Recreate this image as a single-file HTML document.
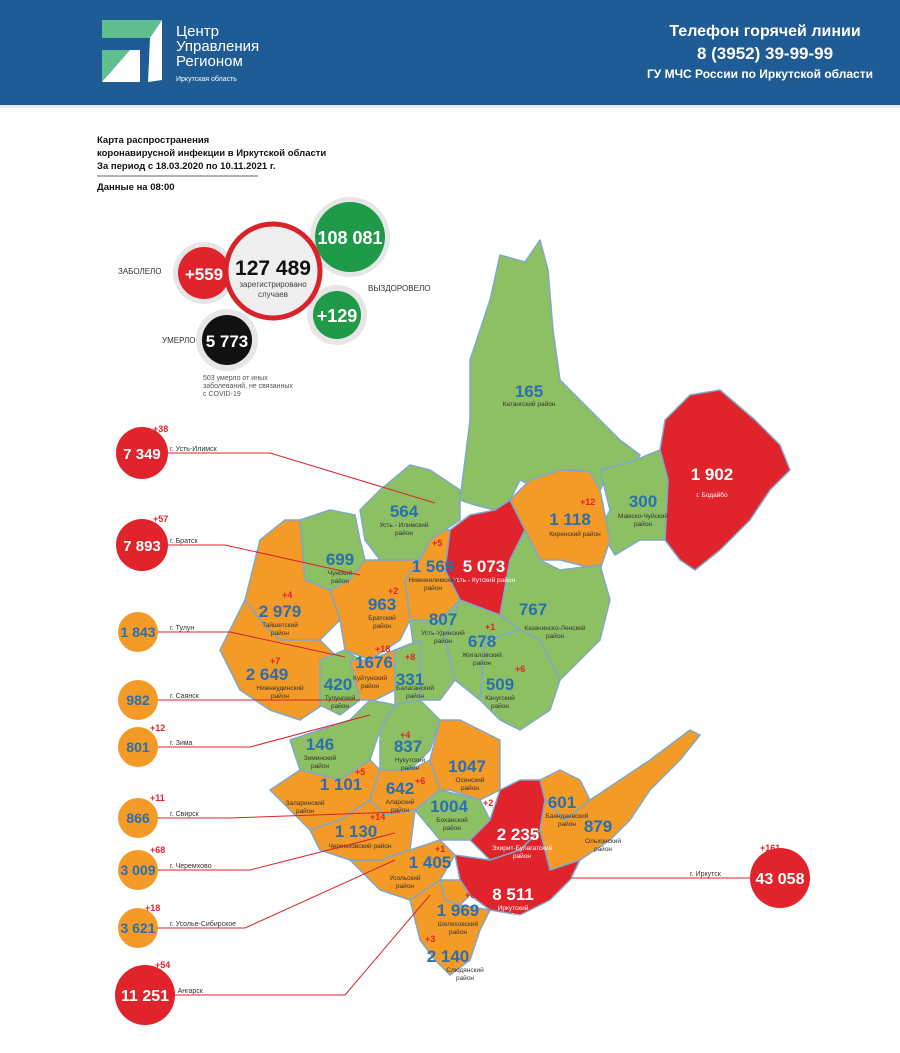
<!DOCTYPE html>
<html><head><meta charset="utf-8"><style>
body{margin:0;width:900px;height:1048px;overflow:hidden;background:#fff;font-family:"Liberation Sans",sans-serif}
</style></head><body>
<svg width="900" height="1048" viewBox="0 0 900 1048" xmlns="http://www.w3.org/2000/svg" font-family="Liberation Sans, sans-serif">
<rect x="0" y="0" width="900" height="105" fill="#1f5b94"/>
<rect x="0" y="105" width="900" height="3" fill="#e9eef4"/>
<polygon points="102,20 162,20 150,38 102,38" fill="#5fbf8f"/>
<polygon points="150,38 162,20 162,80 148,82" fill="#fff"/>
<polygon points="102,50 130,50 102,82" fill="#5fbf8f"/>
<polygon points="130,50 140,50 140,82 102,82" fill="#fff"/>
<text x="176" y="36" fill="#fff" font-size="15">Центр</text>
<text x="176" y="51" fill="#fff" font-size="15">Управления</text>
<text x="176" y="66" fill="#fff" font-size="15">Регионом</text>
<text x="176" y="81" fill="#fff" font-size="7">Иркутская область</text>
<text x="765" y="36" fill="#fff" font-size="16" font-weight="bold" text-anchor="middle">Телефон горячей линии</text>
<text x="765" y="59" fill="#fff" font-size="17" font-weight="bold" text-anchor="middle">8 (3952) 39-99-99</text>
<text x="760" y="78" fill="#fff" font-size="12" font-weight="bold" text-anchor="middle">ГУ МЧС России по Иркутской области</text>
<g font-size="9.5" font-weight="bold" fill="#111">
<text x="97" y="143">Карта распространения</text>
<text x="97" y="156">коронавирусной инфекции в Иркутской области</text>
<text x="97" y="169">За период с 18.03.2020 по 10.11.2021 г.</text>
<text x="97" y="190">Данные на 08:00</text></g>
<line x1="97" y1="176" x2="258" y2="176" stroke="#333" stroke-width="0.7"/>
<!-- summary -->
<circle cx="204" cy="273" r="31" fill="#e6e6e6"/><circle cx="204" cy="273" r="26" fill="#e1232b"/>
<text x="204" y="280" fill="#fff" font-size="17" font-weight="bold" text-anchor="middle">+559</text>
<text x="118" y="274" font-size="8" fill="#333">ЗАБОЛЕЛО</text>
<circle cx="350" cy="237" r="40" fill="#e6e6e6"/><circle cx="350" cy="237" r="35" fill="#1f9a48"/>
<text x="350" y="244" fill="#fff" font-size="18" font-weight="bold" text-anchor="middle">108 081</text>
<circle cx="337" cy="315" r="30" fill="#e6e6e6"/><circle cx="337" cy="315" r="24" fill="#1f9a48"/>
<text x="337" y="322" fill="#fff" font-size="18" font-weight="bold" text-anchor="middle">+129</text>
<text x="368" y="291" font-size="8" fill="#333">ВЫЗДОРОВЕЛО</text>
<circle cx="227" cy="340" r="31" fill="#e6e6e6"/><circle cx="227" cy="340" r="25" fill="#111"/>
<text x="227" y="347" fill="#fff" font-size="17" font-weight="bold" text-anchor="middle">5 773</text>
<text x="162" y="343" font-size="8" fill="#333">УМЕРЛО</text>
<circle cx="273" cy="271" r="47" fill="#efefef" stroke="#d9232a" stroke-width="5"/>
<text x="273" y="275" fill="#111" font-size="21" font-weight="bold" text-anchor="middle">127 489</text>
<text x="273" y="287" fill="#444" font-size="8" text-anchor="middle">зарегистрировано</text>
<text x="273" y="297" fill="#444" font-size="8" text-anchor="middle">случаев</text>
<g font-size="7" fill="#555"><text x="203" y="380">503 умерло от иных</text><text x="203" y="388">заболеваний, не связанных</text><text x="203" y="396">с COVID-19</text></g>
<!-- map -->
<g stroke="#7fa8c8" stroke-width="1.5" stroke-linejoin="round">
<polygon fill="#8dc063" points="460,500 470,420 470,360 490,300 500,255 525,262 540,240 548,270 553,330 560,380 580,400 600,420 620,440 640,455 630,470 610,470 600,490 580,470 560,470 540,490 520,480 510,500 495,510 475,505"/>
<polygon fill="#e1232b" points="665,420 690,395 720,390 755,420 780,445 790,470 770,490 750,520 720,550 695,570 680,560 665,540 668,480 660,450"/>
<polygon fill="#8dc063" points="600,470 630,462 660,450 668,480 665,540 640,540 615,555 600,530 610,510"/>
<polygon fill="#f39a27" points="510,500 530,480 560,470 590,472 600,490 610,540 600,570 560,560 540,560 525,530"/>
<polygon fill="#e1232b" points="450,530 470,515 495,510 510,500 525,530 510,560 500,615 480,610 460,600 445,570"/>
<polygon fill="#8dc063" points="500,615 510,560 525,530 540,560 560,570 600,565 610,600 600,640 580,660 560,680 540,640 520,630"/>
<polygon fill="#8dc063" points="485,640 520,630 540,640 560,680 550,710 520,730 500,720 480,700"/>
<polygon fill="#8dc063" points="460,600 500,615 520,630 485,640 480,700 455,680 445,640"/>
<polygon fill="#8dc063" points="360,510 380,490 410,465 430,470 460,490 460,520 445,530 430,540 420,560 380,560 365,540"/>
<polygon fill="#f39a27" points="420,560 430,540 445,530 450,530 445,570 460,600 440,620 410,620 405,580"/>
<polygon fill="#8dc063" points="410,620 440,620 460,600 445,640 455,680 440,700 420,700 415,660"/>
<polygon fill="#8dc063" points="300,520 330,510 355,515 360,540 365,560 350,580 330,590 305,580"/>
<polygon fill="#f39a27" points="330,590 350,580 365,560 380,560 420,560 405,580 410,620 400,640 370,660 345,650 340,620"/>
<polygon fill="#f39a27" points="260,540 285,520 300,520 305,580 330,590 340,620 320,640 280,640 260,620 245,600"/>
<polygon fill="#f39a27" points="220,650 245,600 260,620 280,640 320,640 340,660 330,700 300,720 270,710 240,690 230,670"/>
<polygon fill="#8dc063" points="320,660 345,650 360,660 360,700 340,715 320,705"/>
<polygon fill="#f39a27" points="350,660 370,660 395,650 395,690 375,700 360,700"/>
<polygon fill="#8dc063" points="395,650 420,640 420,700 395,705 395,690"/>
<polygon fill="#8dc063" points="290,740 320,730 350,720 370,700 395,705 380,730 370,760 340,780 300,770"/>
<polygon fill="#8dc063" points="380,730 395,705 420,700 440,720 430,750 410,770 380,770"/>
<polygon fill="#f39a27" points="270,790 300,770 340,780 370,760 380,770 370,800 340,820 310,830 290,810"/>
<polygon fill="#f39a27" points="370,800 380,770 410,770 430,760 440,790 415,810 385,815"/>
<polygon fill="#f39a27" points="440,720 460,720 480,730 500,740 500,790 480,800 450,790 440,790 430,760"/>
<polygon fill="#8dc063" points="415,810 440,790 480,800 490,820 470,840 440,840"/>
<polygon fill="#f39a27" points="310,830 340,820 370,800 385,815 415,810 410,850 380,860 350,860 320,850"/>
<polygon fill="#f39a27" points="350,860 380,860 410,850 440,840 455,855 440,880 410,900 380,890"/>
<polygon fill="#e1232b" points="470,840 490,820 500,790 520,780 540,780 545,800 540,830 520,850 490,860"/>
<polygon fill="#f39a27" points="540,780 560,770 580,780 590,800 565,820 545,800"/>
<polygon fill="#f39a27" points="545,800 565,820 590,800 620,780 650,760 670,745 690,730 700,735 680,760 650,790 630,820 610,840 580,860 550,870 540,830"/>
<polygon fill="#e1232b" points="455,855 490,860 520,850 540,830 550,870 580,860 570,880 550,900 520,915 490,910 470,895 460,880"/>
<polygon fill="#f39a27" points="440,880 460,880 470,895 460,905 445,900"/>
<polygon fill="#f39a27" points="410,900 440,880 445,900 460,905 490,910 480,930 470,960 450,975 435,960 420,940"/>
</g>
<!-- map labels -->
<g font-weight="bold" font-size="17" text-anchor="middle">
<text x="529" y="397" fill="#2a6fb0">165</text>
<text x="712" y="480" fill="#fff">1 902</text>
<text x="643" y="507" fill="#2a6fb0">300</text>
<text x="570" y="525" fill="#2a6fb0">1 118</text>
<text x="484" y="572" fill="#fff">5 073</text>
<text x="404" y="517" fill="#2a6fb0">564</text>
<text x="433" y="572" fill="#2a6fb0">1 569</text>
<text x="340" y="565" fill="#2a6fb0">699</text>
<text x="382" y="610" fill="#2a6fb0">963</text>
<text x="280" y="617" fill="#2a6fb0">2 979</text>
<text x="443" y="625" fill="#2a6fb0">807</text>
<text x="533" y="615" fill="#2a6fb0">767</text>
<text x="482" y="647" fill="#2a6fb0">678</text>
<text x="374" y="668" fill="#2a6fb0">1676</text>
<text x="267" y="680" fill="#2a6fb0">2 649</text>
<text x="338" y="690" fill="#2a6fb0">420</text>
<text x="410" y="685" fill="#2a6fb0">331</text>
<text x="500" y="690" fill="#2a6fb0">509</text>
<text x="320" y="750" fill="#2a6fb0">146</text>
<text x="408" y="752" fill="#2a6fb0">837</text>
<text x="467" y="772" fill="#2a6fb0">1047</text>
<text x="341" y="790" fill="#2a6fb0">1 101</text>
<text x="400" y="794" fill="#2a6fb0">642</text>
<text x="562" y="808" fill="#2a6fb0">601</text>
<text x="598" y="832" fill="#2a6fb0">879</text>
<text x="449" y="812" fill="#2a6fb0">1004</text>
<text x="518" y="840" fill="#fff">2 235</text>
<text x="356" y="837" fill="#2a6fb0">1 130</text>
<text x="430" y="868" fill="#2a6fb0">1 405</text>
<text x="513" y="900" fill="#fff">8 511</text>
<text x="458" y="916" fill="#2a6fb0">1 969</text>
<text x="448" y="962" fill="#2a6fb0">2 140</text>
</g>
<g font-size="6.5" fill="#333" text-anchor="middle">
<text x="529" y="406">Катангский район</text><text x="712" y="497" fill="#fff">г. Бодайбо</text>
<text x="643" y="518">Мамско-Чуйский</text><text x="643" y="526">район</text>
<text x="575" y="536">Киренский район</text><text x="484" y="582" fill="#fff">Усть - Кутский район</text>
<text x="404" y="527">Усть - Илимский</text><text x="404" y="535">район</text>
<text x="433" y="582">Нижнеилимский</text><text x="433" y="590">район</text>
<text x="340" y="575">Чунский</text><text x="340" y="583">район</text>
<text x="382" y="620">Братский</text><text x="382" y="628">район</text>
<text x="280" y="627">Тайшетский</text><text x="280" y="635">район</text>
<text x="443" y="635">Усть-Удинский</text><text x="443" y="643">район</text>
<text x="555" y="630">Казачинско-Ленский</text><text x="555" y="638">район</text>
<text x="482" y="657">Жигаловский</text><text x="482" y="665">район</text>
<text x="280" y="690">Нижнеудинский</text><text x="280" y="698">район</text>
<text x="370" y="680">Куйтунский</text><text x="370" y="688">район</text>
<text x="340" y="700">Тулунский</text><text x="340" y="708">район</text>
<text x="415" y="690">Балаганский</text><text x="415" y="698">район</text>
<text x="500" y="700">Качугский</text><text x="500" y="708">район</text>
<text x="320" y="760">Зиминский</text><text x="320" y="768">район</text>
<text x="410" y="762">Нукутский</text><text x="410" y="770">район</text>
<text x="470" y="782">Осинский</text><text x="470" y="790">район</text>
<text x="305" y="805">Заларинский</text><text x="305" y="813">район</text>
<text x="400" y="804">Аларский</text><text x="400" y="812">район</text>
<text x="567" y="818">Баяндаевский</text><text x="567" y="826">район</text>
<text x="603" y="843">Ольхонский</text><text x="603" y="851">район</text>
<text x="452" y="822">Боханский</text><text x="452" y="830">район</text>
<text x="522" y="850" fill="#fff">Эхирит-Булагатский</text><text x="522" y="858" fill="#fff">район</text>
<text x="360" y="848">Черемховский район</text>
<text x="405" y="880">Усольский</text><text x="405" y="888">район</text>
<text x="513" y="910" fill="#fff">Иркутский</text><text x="513" y="918" fill="#fff">район</text>
<text x="458" y="926">Шелеховский</text><text x="458" y="934">район</text>
<text x="465" y="972">Слюдянский</text><text x="465" y="980">район</text>
</g>
<g font-size="9" fill="#e1232b" font-weight="bold">
<text x="730" y="465">+2</text><text x="580" y="505">+12</text><text x="488" y="553">+9</text><text x="432" y="546">+5</text>
<text x="388" y="594">+2</text><text x="282" y="598">+4</text><text x="485" y="630">+1</text><text x="515" y="672">+6</text>
<text x="375" y="652">+18</text><text x="405" y="660">+8</text><text x="270" y="664">+7</text><text x="400" y="738">+4</text>
<text x="355" y="775">+5</text><text x="415" y="784">+6</text><text x="483" y="806">+2</text><text x="514" y="822">+7</text>
<text x="370" y="820">+14</text><text x="435" y="852">+1</text><text x="537" y="884">+18</text><text x="465" y="898">+6</text><text x="425" y="942">+3</text>
</g>
<!-- leaders -->
<g stroke="#d9232a" stroke-width="1" fill="none">
<polyline points="168,453 270,453 435,503"/><polyline points="168,545 225,545 360,575"/>
<polyline points="158,632 230,632 345,657"/><polyline points="158,700 360,700"/>
<polyline points="158,747 250,747 370,715"/><polyline points="158,818 230,818 400,812"/>
<polyline points="158,870 250,870 395,833"/><polyline points="158,928 245,928 395,860"/>
<polyline points="175,995 345,995 430,895"/><polyline points="750,878 560,878 525,882"/>
</g>
<g font-size="7" fill="#333"><text x="170" y="451">г. Усть-Илимск</text><text x="170" y="543">г. Братск</text>
<text x="170" y="630">г. Тулун</text><text x="170" y="698">г. Саянск</text><text x="170" y="745">г. Зима</text>
<text x="170" y="816">г. Свирск</text><text x="170" y="868">г. Черемхово</text><text x="170" y="926">г. Усолье-Сибирское</text>
<text x="172" y="993">г. Ангарск</text><text x="690" y="876">г. Иркутск</text></g>
<g font-weight="bold" text-anchor="middle">
<circle cx="142" cy="453" r="26" fill="#e1232b"/><text x="142" y="459" fill="#fff" font-size="15">7 349</text>
<circle cx="142" cy="545" r="26" fill="#e1232b"/><text x="142" y="551" fill="#fff" font-size="15">7 893</text>
<circle cx="138" cy="632" r="20" fill="#f39a27"/><text x="138" y="637" fill="#2a6fb0" font-size="14">1 843</text>
<circle cx="138" cy="700" r="20" fill="#f39a27"/><text x="138" y="705" fill="#2a6fb0" font-size="14">982</text>
<circle cx="138" cy="747" r="20" fill="#f39a27"/><text x="138" y="752" fill="#2a6fb0" font-size="14">801</text>
<circle cx="138" cy="818" r="20" fill="#f39a27"/><text x="138" y="823" fill="#2a6fb0" font-size="14">866</text>
<circle cx="138" cy="870" r="20" fill="#f39a27"/><text x="138" y="875" fill="#2a6fb0" font-size="14">3 009</text>
<circle cx="138" cy="928" r="20" fill="#f39a27"/><text x="138" y="933" fill="#2a6fb0" font-size="14">3 621</text>
<circle cx="145" cy="995" r="30" fill="#e1232b"/><text x="145" y="1001" fill="#fff" font-size="16">11 251</text>
<circle cx="780" cy="878" r="30" fill="#e1232b"/><text x="780" y="884" fill="#fff" font-size="16">43 058</text>
</g>
<g font-size="9" fill="#e1232b" font-weight="bold"><text x="153" y="432">+38</text><text x="153" y="522">+57</text>
<text x="150" y="731">+12</text><text x="150" y="801">+11</text><text x="150" y="853">+68</text><text x="145" y="911">+18</text>
<text x="155" y="968">+54</text><text x="760" y="851">+161</text></g>
</svg>
</body></html>
